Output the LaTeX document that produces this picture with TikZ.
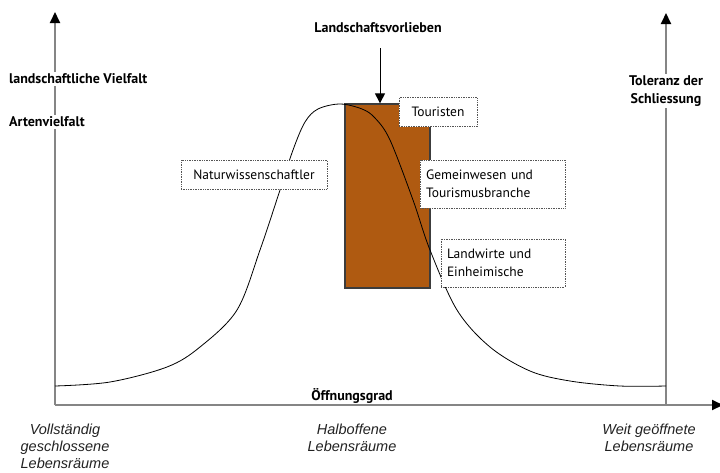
\documentclass[tikz,border=0pt]{standalone}
\usepackage{fontspec}
\setmainfont{PT Sans}
\newfontfamily\capfont{Liberation Sans}
\usetikzlibrary{arrows.meta, positioning}
\definecolor{caxis}{HTML}{858585}
\definecolor{cbrown}{HTML}{AF5A11}
\definecolor{cedge}{HTML}{3C3C3C}
\definecolor{cdots}{HTML}{555555}
\definecolor{ctext}{HTML}{222222}
\tikzset{
  every picture/.style={x=1pt, y=-1pt},
  axis/.style={draw=caxis, line width=2pt, -{Triangle[length=11pt, width=10pt, color=black]}},
  axislabel/.style={font=\bfseries\fontsize{14}{18}\selectfont, fill=white, inner sep=2pt, align=center},
  tag/.style={draw=cdots, densely dotted, line width=0.7pt, fill=white, inner sep=6pt, font=\fontsize{13.5}{18}\selectfont, align=left},
  pref/.style={draw=cedge, fill=cbrown, line width=1.3pt, minimum width=85pt, minimum height=184pt, inner sep=0pt},
  habitat/.style={font=\capfont\itshape\fontsize{14.5}{17}\selectfont, text=ctext, align=center},
  pointer/.style={-{Triangle[length=10pt, width=10pt]}, line width=1pt},
}

\begin{document}
\begin{tikzpicture}
  \useasboundingbox (0,0) rectangle (720,472);
  % axes
  \coordinate (o) at (55,405);
  \coordinate (ytop) at (55,12);
  \coordinate (xend) at (723,405);
  \coordinate (rbot) at (666,405);
  \coordinate (rtop) at (666,13);
  \draw[axis] (o) -- (ytop);
  \draw[axis] (rbot) -- (rtop);
  \draw[axis] (o) -- (xend);
  \node[axislabel, anchor=west] (vielfalt) at (7,79) {landschaftliche Vielfalt};
  \node[axislabel, anchor=west] (arten) at (7,122) {Artenvielfalt};
  \node[axislabel] (toleranz) at (666,91) {Toleranz der\\Schliessung};
  \node[axislabel, fill=none] (grad) at (352,396) {Öffnungsgrad};
  % preferences
  \node[pref] (pvorl) at (387.5,196) {};
  \node[axislabel, fill=none] (landvorl) at (378,28) {Landschaftsvorlieben};
  \coordinate (astart) at (380,48);
  \draw[pointer] (astart) -- (astart |- pvorl.north);
  % curve
  \draw[line width=0.8pt] plot[smooth, tension=0.55] coordinates {
    (55,386) (110,382) (167,367) (200,347) (237,310) (260,250) (280,190)
    (293,150) (305,122) (318,109) (340,104) (362,109) (375,118) (390,140)
    (413,200) (430,250) (457,310) (490,347) (530,371) (570,381) (620,386) (666,386)};
  % groups
  \node[tag, minimum width=78pt, minimum height=29pt, align=center] (tour) at (438,112) {Touristen};
  \node[tag, minimum width=146pt, minimum height=29pt, align=center] (natur) at (254,174.5) {Naturwissenschaftler};
  \node[tag, text width=133pt, minimum height=48pt] (gemein) at (492.5,184) {Gemeinwesen und\\Tourismusbranche};
  \node[tag, text width=112pt, minimum height=48pt] (landw) at (503,263) {Landwirte und\\Einheimische};
  % habitats
  \node[habitat] (closed) at (65,446) {Vollständig\\geschlossene\\Lebensräume};
  \node[habitat] (half) at (352,438) {Halboffene\\Lebensräume};
  \node[habitat] (open) at (649,438) {Weit geöffnete\\Lebensräume};
\end{tikzpicture}
\end{document}
